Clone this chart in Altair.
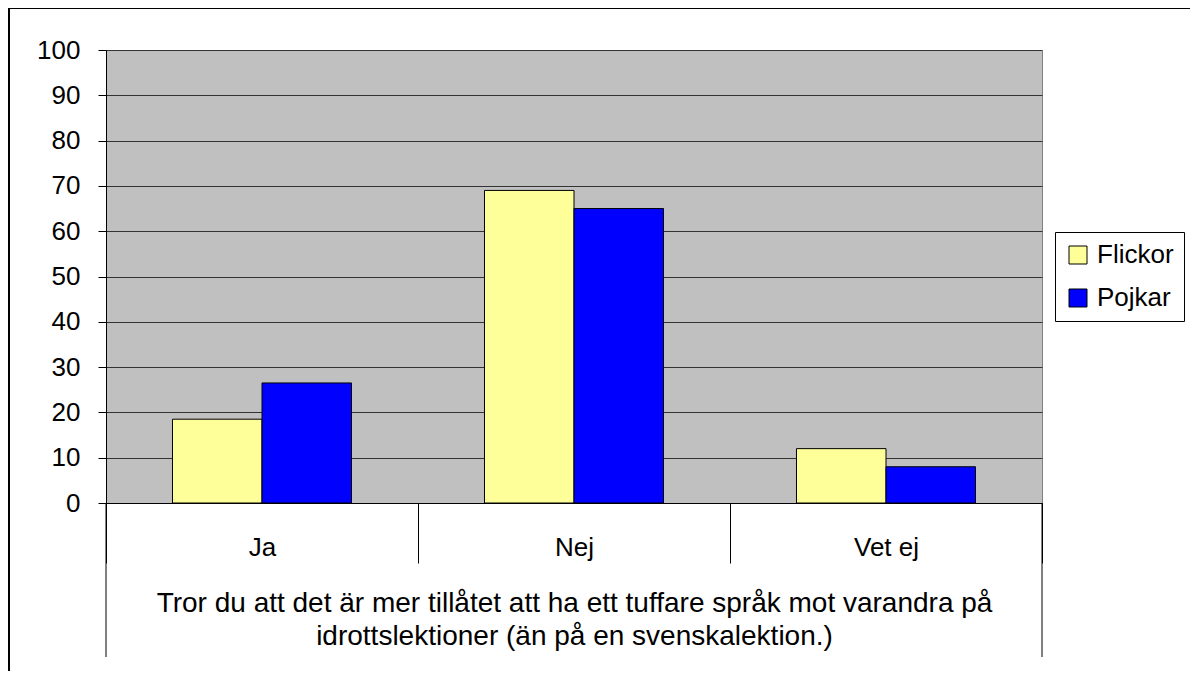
import altair as alt
import pandas as pd

categories = ["Ja", "Nej", "Vet ej"]
series = ["Flickor", "Pojkar"]
flickor = [18.5, 69, 12]
pojkar = [26.5, 65, 8]
colors = ["#FFFF99", "#0000FF"]
y_ticks = [0, 10, 20, 30, 40, 50, 60, 70, 80, 90, 100]
title_lines = [
    "Tror du att det är mer tillåtet att ha ett tuffare språk mot varandra på",
    "idrottslektioner (än på en svenskalektion.)",
]

rows = []
for c, f, p in zip(categories, flickor, pojkar):
    rows.append({"Svar": c, "Kön": "Flickor", "Andel": f})
    rows.append({"Svar": c, "Kön": "Pojkar", "Andel": p})
df = pd.DataFrame(rows)

W, H = 936, 453
FONT = "Liberation Sans"

base = alt.Chart(df)

bars = base.mark_bar(stroke="black", strokeWidth=1).encode(
    x=alt.X(
        "Svar:N",
        sort=categories,
        scale=alt.Scale(paddingInner=0, paddingOuter=0),
        axis=alt.Axis(
            title=title_lines,
            titleFontSize=28,
            titleFont=FONT,
            titleFontWeight="normal",
            titleColor="black",
            titleLineHeight=33,
            titleBaseline="top",
            titleY=86,
            labelAngle=0,
            labelFontSize=26,
            labelFont=FONT,
            labelColor="black",
            labelPadding=-29,
            tickBand="extent",
            tickSize=60,
            tickColor="black",
            domainColor="black",
            grid=False,
        ),
    ),
    xOffset=alt.XOffset(
        "Kön:N",
        sort=series,
        scale=alt.Scale(paddingInner=0, paddingOuter=0.743),
    ),
    y=alt.Y(
        "Andel:Q",
        scale=alt.Scale(domain=[0, 100], nice=False),
        axis=alt.Axis(
            title=None,
            values=y_ticks,
            labelFontSize=26,
            labelFont=FONT,
            labelColor="black",
            labelPadding=18,
            tickSize=8,
            tickColor="black",
            domainColor="black",
            grid=True,
            gridColor="#333333",
            gridWidth=1,
        ),
    ),
    color=alt.Color(
        "Kön:N",
        sort=series,
        scale=alt.Scale(domain=series, range=colors),
        legend=alt.Legend(
            title=None,
            orient="none",
            legendX=949,
            legendY=182,
            labelFontSize=26,
            labelFont=FONT,
            labelColor="black",
            symbolType="square",
            symbolSize=324,
            symbolStrokeColor="black",
            symbolStrokeWidth=1,
            strokeColor="black",
            fillColor="white",
            padding=10,
            rowPadding=17,
            labelOffset=6,
        ),
    ),
)

one = pd.DataFrame({"k": [0]})

left_line = alt.Chart(one).mark_rule(color="black", strokeWidth=1).encode(
    x=alt.value(0), y=alt.value(H), y2=alt.value(H + 154)
)
right_line = alt.Chart(one).mark_rule(color="black", strokeWidth=1).encode(
    x=alt.value(W), y=alt.value(H), y2=alt.value(H + 154)
)

outer = alt.Chart(one).mark_rect(
    fill=None, stroke="black", strokeWidth=2
).encode(
    x=alt.value(-97),
    y=alt.value(-42),
    x2=alt.value(W + 300),
    y2=alt.value(H + 300),
)

chart = (
    alt.layer(bars, left_line, right_line, outer)
    .properties(
        width=W,
        height=H,
        autosize=alt.AutoSizeParams(type="none"),
        padding={"left": 98, "top": 42, "right": 148, "bottom": 168},
        background="white",
    )
    .configure_view(fill="#C0C0C0", stroke="#808080", strokeWidth=1)
)

chart.save("out.html", embed_options={"renderer": "svg", "actions": False})
